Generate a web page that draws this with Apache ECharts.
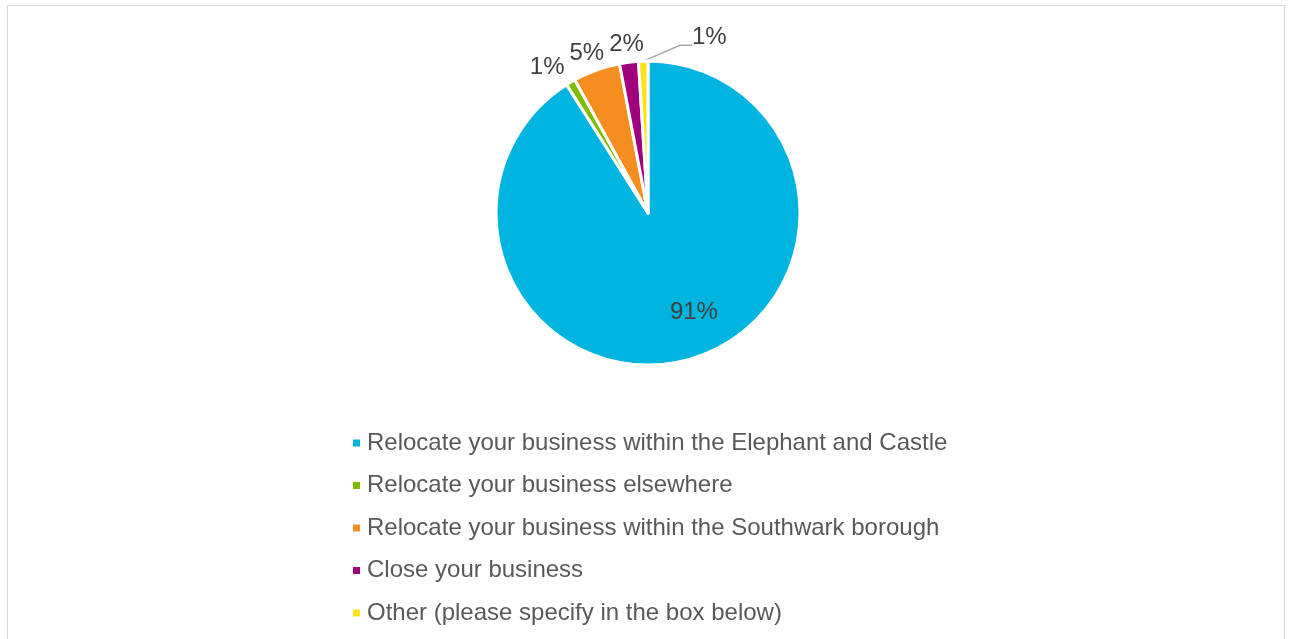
<!DOCTYPE html>
<html>
<head>
<meta charset="utf-8">
<style>
  html, body { margin: 0; padding: 0; background: #fff; }
  #frame { position: absolute; left: 7px; top: 5px; width: 1278px; height: 660px;
           border: 1px solid #d9d9d9; box-sizing: border-box; }
  #chart { position: absolute; left: 0; top: 0; width: 1291px; height: 639px; }
</style>
<script src="https://cdn.jsdelivr.net/npm/echarts@6/dist/echarts.min.js"></script>
</head>
<body>
<div id="frame"></div>
<div id="chart"></div>
<script>
// Survey answers: what the business would do
const categories = [
  'Relocate your business within the Elephant and Castle',
  'Relocate your business elsewhere',
  'Relocate your business within the Southwark borough',
  'Close your business',
  'Other (please specify in the box below)'
];
const shares = [91, 1, 5, 2, 1];
const colors = ['#00b4e0', '#7fbb00', '#f68e1f', '#a0007e', '#ffe21a'];

const FONT = 'Liberation Sans, Arial, sans-serif';
const CX = 648, CY = 213, R = 152;
const total = shares.reduce((a, b) => a + b, 0);

// angle (radians, clockwise from 12 o'clock) through the middle of slice i
function midAngle(i) {
  let before = 0;
  for (let k = 0; k < i; k++) before += shares[k];
  return (before + shares[i] / 2) / total * 2 * Math.PI;
}
function polar(a, r) {
  return [CX + r * Math.sin(a), CY - r * Math.cos(a)];
}

// outside labels of the thin slices sit on a ring; a label that would run
// into its clockwise neighbour is slid to the left
const LAST = shares.length - 1;
function outsideCentre(i, w, h) {
  let [x, y] = polar(midAngle(i), R + 19.5);
  y += 2;
  if (i + 1 < LAST) {
    const [nx, ny] = outsideCentre(i + 1, w, h);
    const overlapY = Math.abs(ny - y) < h;
    const limit = nx - w / 2 - 5;
    if (overlapY && x + w / 2 > limit) x = limit - w / 2;
  }
  return [x, y];
}

function placeLabel(p) {
  const i = p.dataIndex;
  const w = p.labelRect.width, h = p.labelRect.height;
  if (i === 0) {
    const [x, y] = polar(midAngle(0) - 0.15, R * 0.72);
    return { x, y, align: 'center', verticalAlign: 'middle', hideOverlap: false };
  }
  if (i === LAST) {
    // pulled off to the right, joined to its slice by a leader line
    return { x: CX + 44, y: CY - 188, align: 'left', verticalAlign: 'top', hideOverlap: false };
  }
  const [x, y] = outsideCentre(i, w, h);
  return { x, y, align: 'center', verticalAlign: 'middle', hideOverlap: false };
}

const chart = echarts.init(document.getElementById('chart'), null, { renderer: 'canvas' });

const data = categories.map((name, i) => {
  const item = { name, value: shares[i], itemStyle: { color: colors[i] } };
  if (i === 0) {
    item.label = { position: 'inside' };
  } else if (i === LAST) {
    // an empty second line gives the label box room below the text,
    // so the leader line meets it low down
    item.label = {
      position: 'outside',
      formatter: '{c}%\n{gap| }',
      rich: { gap: { fontSize: 1, lineHeight: 32 } }
    };
    item.labelLine = { show: true, length: 10, length2: 12 };
  } else {
    item.label = { position: 'outside' };
    item.labelLine = { show: false };
  }
  return item;
});

chart.setOption({
  animation: false,
  color: colors,
  legend: {
    orient: 'vertical',
    left: 353,
    top: 431,
    padding: 0,
    icon: 'rect',
    itemWidth: 7,
    itemHeight: 7,
    itemGap: 18.5,
    selectedMode: false,
    itemStyle: { borderWidth: 0 },
    textStyle: { fontFamily: FONT, fontSize: 24, lineHeight: 24, color: '#595959', padding: [0, 0, 0, 2] },
    data: categories
  },
  series: [{
    type: 'pie',
    center: [CX, CY],
    radius: R,
    startAngle: 90,
    clockwise: true,
    avoidLabelOverlap: false,
    itemStyle: { borderColor: '#ffffff', borderWidth: 3 },
    label: {
      show: true,
      formatter: '{c}%',
      fontFamily: FONT,
      fontSize: 24,
      color: '#404040'
    },
    labelLine: { lineStyle: { color: '#a6a6a6', width: 1.5 } },
    labelLayout: placeLabel,
    emphasis: { disabled: true },
    data
  }]
});
</script>
</body>
</html>
